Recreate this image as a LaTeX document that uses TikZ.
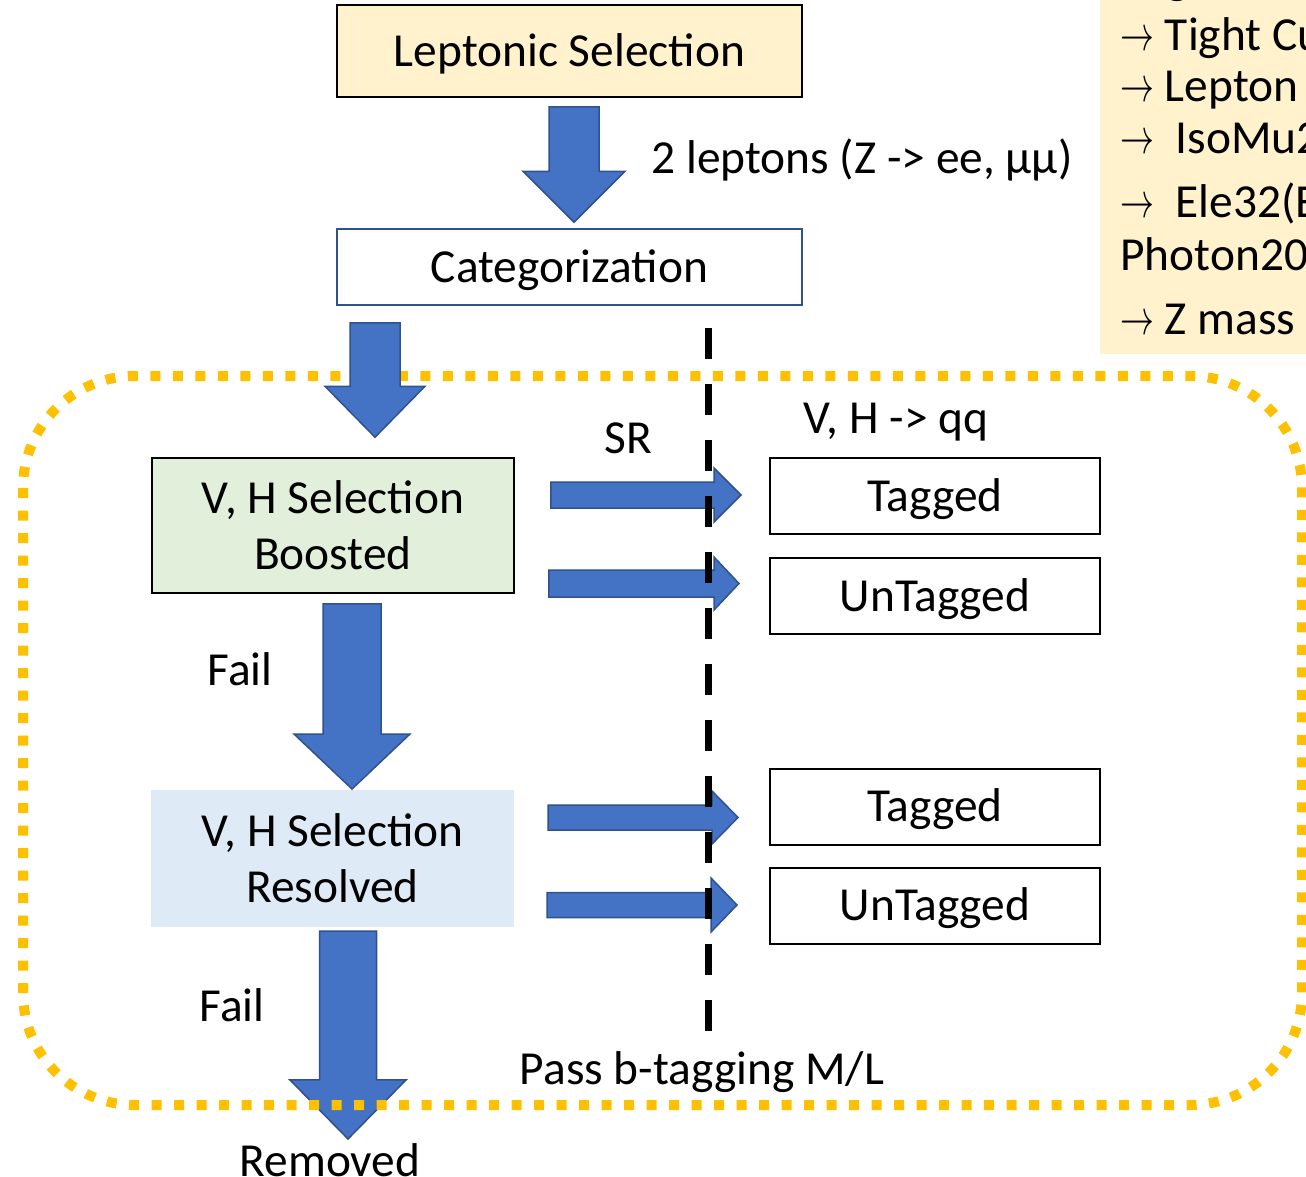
\documentclass[tikz,border=0pt]{standalone}
\usepackage{fontspec}
\setmainfont{Carlito}
\usepackage{tikz}
\usetikzlibrary{positioning, calc}

\definecolor{boxyellow}{HTML}{FFF2CC}
\definecolor{boxgreen}{HTML}{E2EFDA}
\definecolor{boxblue}{HTML}{DEEBF7}
\definecolor{arrowblue}{HTML}{4472C4}
\definecolor{arrowedge}{HTML}{2F528F}
\definecolor{dotyellow}{HTML}{FFC000}

\newcommand{\slidefont}{\fontsize{23.7}{28}\selectfont}
\newcommand{\arr}{\scalebox{0.68}[1]{$\rightarrow$}}
% block arrows: start, tip, shaft half width, head half width, head length
\newcommand{\blockdown}[5]{%
  \draw[block_arrow] let \p1=(#1), \p2=(#2) in
    (\x1-#3,\y1) -- (\x1+#3,\y1) -- (\x1+#3,\y2+#5) -- (\x1+#4,\y2+#5) -- (\x1,\y2)
    -- (\x1-#4,\y2+#5) -- (\x1-#3,\y2+#5) -- cycle;}
\newcommand{\blockright}[5]{%
  \draw[block_arrow] let \p1=(#1), \p2=(#2) in
    (\x1,\y1+#3) -- (\x2-#5,\y1+#3) -- (\x2-#5,\y1+#4) -- (\x2,\y1)
    -- (\x2-#5,\y1-#4) -- (\x2-#5,\y1-#3) -- (\x1,\y1-#3) -- cycle;}

\begin{document}
\begin{tikzpicture}[
        x=0.5pt, y=-0.5pt, font=\slidefont,
        % Define styles for the boxes
        base_box/.style={draw, align=center, inner sep=0pt, line width=1pt},
        one_line/.style={text height=19pt, text depth=3.6pt},
        lep_box/.style={base_box, one_line, fill=boxyellow, minimum width=232.5pt, minimum height=46pt},
        cat_box/.style={base_box, one_line, draw=arrowedge, line width=0.75pt, minimum width=232.5pt, minimum height=38pt},
        boost_box/.style={base_box, fill=boxgreen, line width=0.75pt, minimum width=181pt, minimum height=67.5pt},
        resolve_box/.style={base_box, draw=none, fill=boxblue, minimum width=181.5pt, minimum height=68.5pt},
        tag_box/.style={base_box, one_line, minimum width=165pt, minimum height=38pt},
        note_text/.style={inner sep=0pt},
        block_arrow/.style={fill=arrowblue, draw=arrowedge, line width=0.75pt, line join=miter},
        cut_line/.style={line width=3.35pt, dash pattern=on 15.5pt off 12.5pt},
        region/.style={draw=dotyellow, line width=5pt, dash pattern=on 5pt off 6.25pt, rounded corners=56pt}
    ]

    \useasboundingbox (0,0) rectangle (1306,1177);
    \clip (0,0) rectangle (1306,1177);

    % Side panel with the lepton cuts, cut off by the page edge
    \fill[boxyellow] (1100,-10) rectangle (1320,354);
    \node (cut0) [note_text, anchor=west] at (1166,-14) {g};
    \node (cut1) [note_text, anchor=west] at (1120,38) {\arr\ Tight Cu};
    \node (cut2) [note_text, anchor=west] at (1120,90) {\arr\ Lepton P};
    \node (cut3) [note_text, anchor=west] at (1120,138) {\arr\ \ IsoMu2};
    \node (cut4) [note_text, anchor=west] at (1120,203) {\arr\ \ Ele32(E};
    \node (cut5) [note_text, anchor=west] at (1120,254) {Photon200};
    \node (cut6) [note_text, anchor=west] at (1120,319) {\arr\ Z mass w};

    % Selection chain
    \node (lepsel) [lep_box] at (569.5,51) {Leptonic Selection};
    \node (categ) [cat_box] at (569.5,267) {Categorization};
    \node (boosted) [boost_box] at (333,525.5) {V, H Selection\\Boosted};
    \node (resolved) [resolve_box] at (332.5,858.5) {V, H Selection\\Resolved};
    \node (removed) [note_text] at (330,1160) {Removed};

    % Categories on the right
    \node (tagA) [tag_box] at (935,496) {Tagged};
    \node (untagA) [tag_box, below=11pt of tagA] {UnTagged};
    \node (tagB) [tag_box] at (935,806.5) {Tagged};
    \node (untagB) [tag_box, below=10.5pt of tagB] {UnTagged};

    % Last arrow sits under the dotted frame
    \blockdown{$(resolved.south)+(15.5,3)$}{$(removed.north)+(0,-4)$}{14.25pt}{29pt}{29.5pt}

    % Dotted frame round the categorization
    \draw[region] (23,376) rectangle (1302,1105);

    % Block arrows
    \blockdown{$(lepsel.south)+(4.5,9)$}{$(categ.north)+(4.5,-6)$}{12.5pt}{25.5pt}{25.5pt}
    \blockdown{$(categ.south)+(-194.5,17)$}{$(boosted.north)+(42,-20)$}{12.5pt}{25pt}{25.5pt}
    \blockdown{$(boosted.south)+(19,10)$}{$(resolved.north)$}{14.5pt}{29pt}{27.5pt}
    \blockright{$(boosted.east)+(36,-30.5)$}{$(tagA.west)+(-28,0)$}{6.5pt}{13.5pt}{13.5pt}
    \blockright{$(boosted.east)+(34,58)$}{$(untagA.west)+(-30,0)$}{6.75pt}{13.25pt}{12.5pt}
    \blockright{$(resolved.east)+(33,-41)$}{$(tagB.west)+(-31,0)$}{6.25pt}{13.25pt}{13pt}
    \blockright{$(resolved.east)+(32,46.5)$}{$(untagB.west)+(-32,0)$}{6.25pt}{13.5pt}{13pt}

    % b-tagging cut
    \draw[cut_line] (708.5,328) -- (708.5,1031);

    % Labels
    \node (nlep) [note_text] at (862,160) {2 leptons (Z -> ee, μμ)};
    \node (sr) [note_text] at (628,438) {SR};
    \node (vhqq) [note_text] at (896,422) {V, H -> qq};
    \node (fail1) [note_text] at (240,669) {Fail};
    \node (fail2) [note_text] at (232,1005) {Fail};
    \node (pass) [note_text] at (702,1072) {Pass b-tagging M/L};

\end{tikzpicture}
\end{document}
